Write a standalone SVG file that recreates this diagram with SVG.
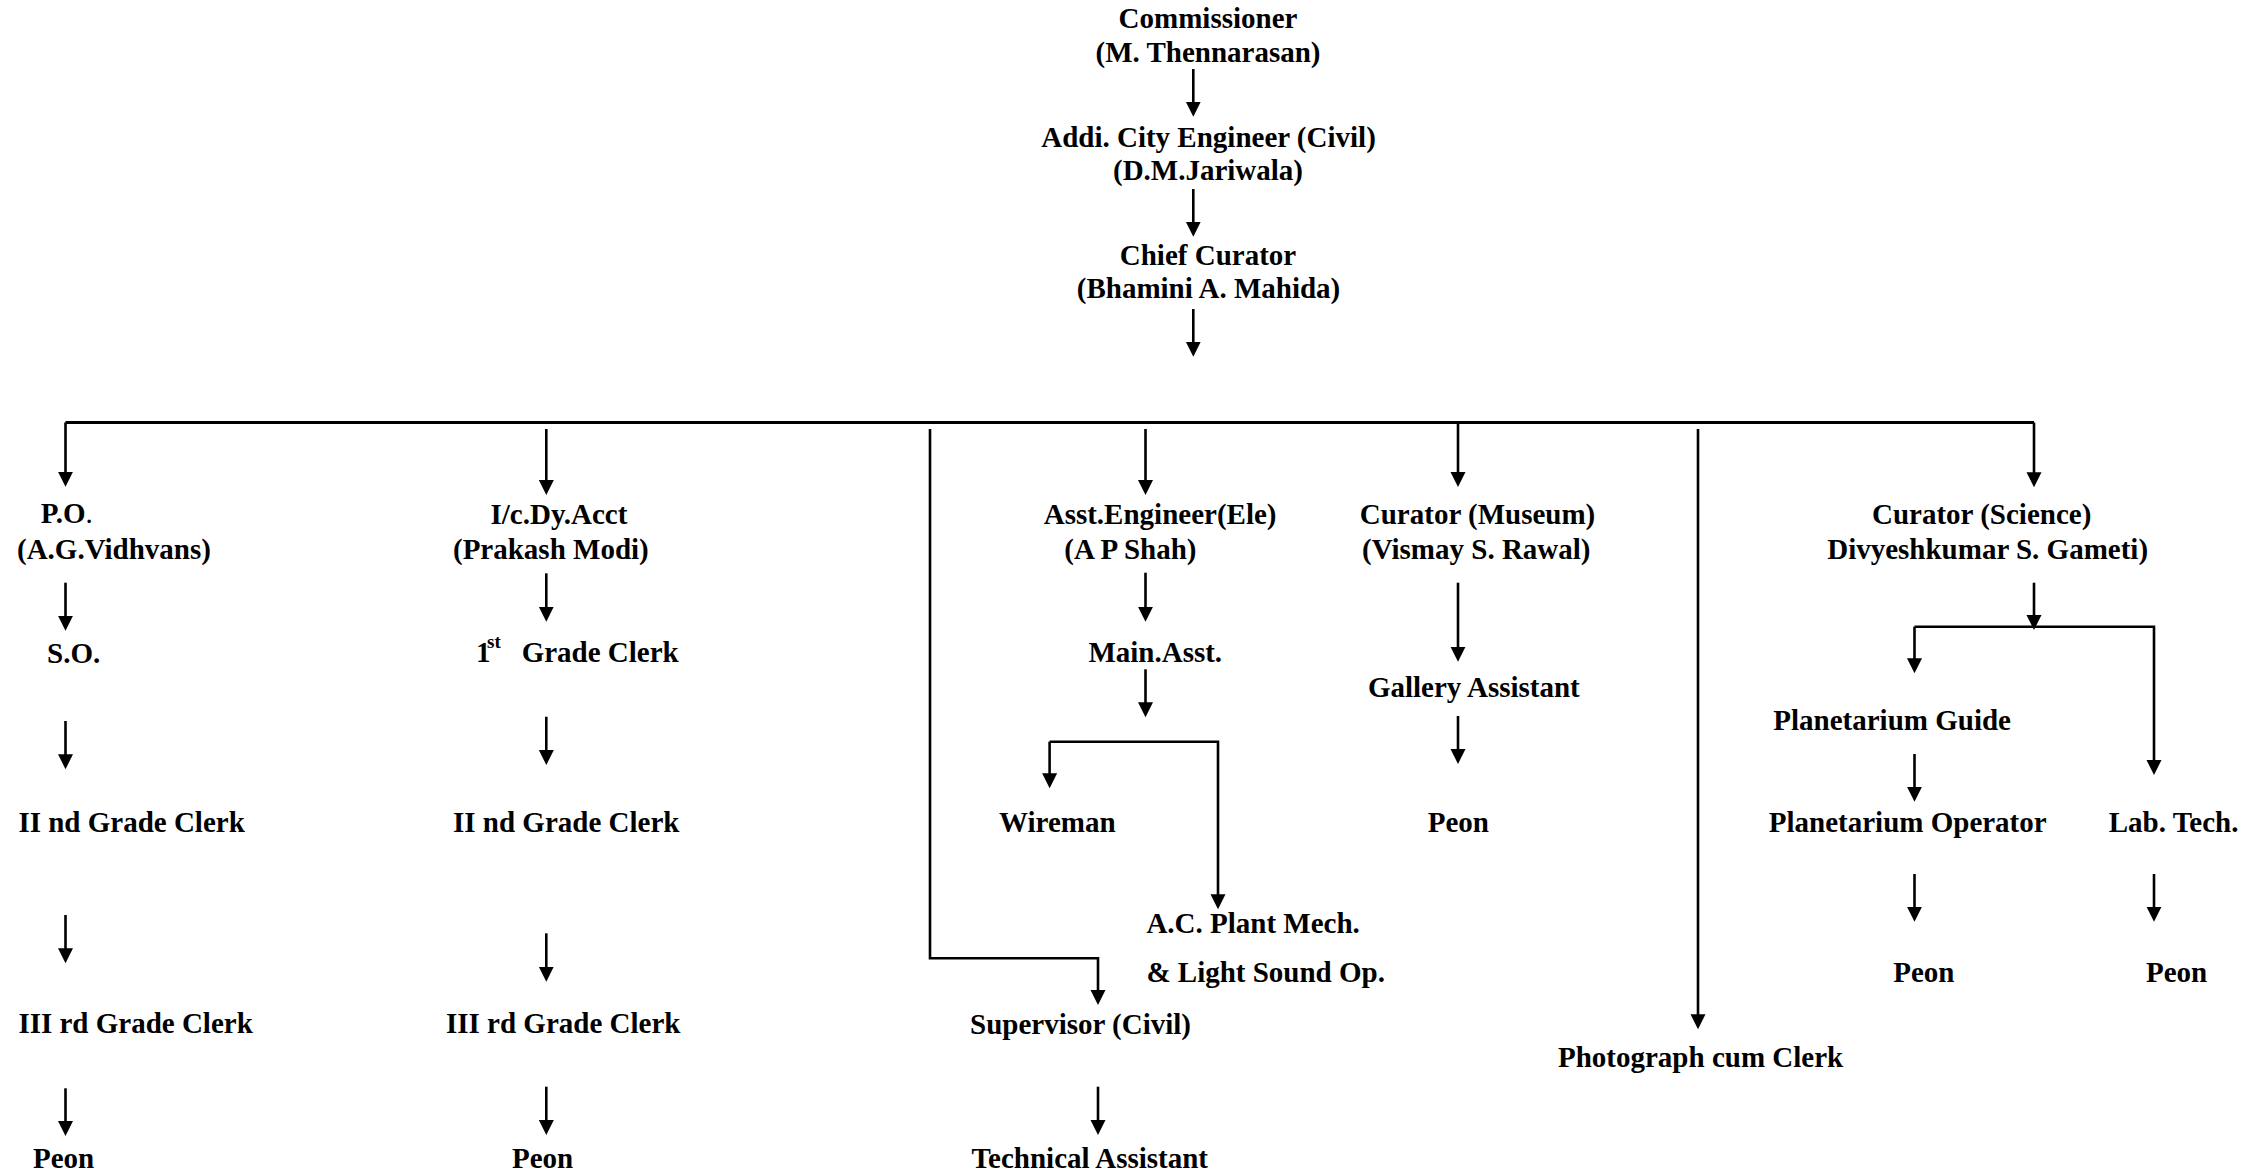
<svg xmlns="http://www.w3.org/2000/svg" width="2264" height="1175" viewBox="0 0 2264 1175">
<style>
.t{font-family:"Liberation Serif","Times New Roman",serif;font-weight:bold;font-size:29px;fill:#000}
.m{text-anchor:middle}
.r{font-weight:normal}
.sup{font-size:19px}
.c{stroke:#000;stroke-width:2.6;fill:none}
.a{marker-end:url(#ah)}
</style>
<defs>
<marker id="ah" markerUnits="userSpaceOnUse" markerWidth="16" markerHeight="16" refX="5" refY="7.5" orient="auto">
<path d="M0,0 L15,7.5 L0,15 z" fill="#000"/>
</marker>
</defs>
<rect width="2264" height="1175" fill="#fff"/>
<g id="connectors">
<line class="c a" x1="1193.3" y1="69" x2="1193.3" y2="106.7"/>
<line class="c a" x1="1193.3" y1="189" x2="1193.3" y2="226.7"/>
<line class="c a" x1="1193.3" y1="309" x2="1193.3" y2="346.7"/>
<path class="c" style="stroke-width:3" d="M65.5,422.5 H2034"/>
<line class="c a" x1="65.5" y1="422.5" x2="65.5" y2="476.7"/>
<line class="c a" x1="2034" y1="422.5" x2="2034" y2="477.3"/>
<line class="c a" x1="1458" y1="422.5" x2="1458" y2="477"/>
<line class="c a" x1="546.3" y1="429" x2="546.3" y2="485"/>
<line class="c a" x1="1145.5" y1="429" x2="1145.5" y2="485"/>
<path class="c a" d="M930,429 V958.3 H1098 V995"/>
<line class="c a" x1="1698" y1="429" x2="1698" y2="1019.3"/>
<line class="c a" x1="65.5" y1="582.7" x2="65.5" y2="620.7"/>
<line class="c a" x1="65.5" y1="721" x2="65.5" y2="759.3"/>
<line class="c a" x1="65.5" y1="915" x2="65.5" y2="953.3"/>
<line class="c a" x1="65.5" y1="1088.3" x2="65.5" y2="1126"/>
<line class="c a" x1="546.3" y1="573.3" x2="546.3" y2="611.7"/>
<line class="c a" x1="546.3" y1="716.7" x2="546.3" y2="755"/>
<line class="c a" x1="546.3" y1="933.3" x2="546.3" y2="971.7"/>
<line class="c a" x1="546.3" y1="1086.7" x2="546.3" y2="1125"/>
<line class="c a" x1="1145.5" y1="572.7" x2="1145.5" y2="611.7"/>
<line class="c a" x1="1145.5" y1="669.3" x2="1145.5" y2="707.3"/>
<path class="c a" d="M1049.6,741.7 H1218 V899.3"/>
<line class="c a" x1="1049.6" y1="741.7" x2="1049.6" y2="778.3"/>
<line class="c a" x1="1098" y1="1086.7" x2="1098" y2="1125"/>
<line class="c a" x1="1458" y1="582.7" x2="1458" y2="651.7"/>
<line class="c a" x1="1458" y1="716" x2="1458" y2="754"/>
<line class="c a" x1="2034" y1="582.7" x2="2034" y2="620"/>
<path class="c a" d="M1914.5,626.7 H2154 V765"/>
<line class="c a" x1="1914.5" y1="626.7" x2="1914.5" y2="663.3"/>
<line class="c a" x1="1914.5" y1="754" x2="1914.5" y2="791.7"/>
<line class="c a" x1="1914.5" y1="874" x2="1914.5" y2="911.7"/>
<line class="c a" x1="2154" y1="874" x2="2154" y2="911.7"/>
</g>
<g id="commissioner"><text class="t m" x="1208" y="28">Commissioner</text><text class="t m" x="1208" y="61.5">(M. Thennarasan)</text></g>
<g id="addl-city-engineer"><text class="t m" x="1208.5" y="146.7">Addi. City Engineer (Civil)</text><text class="t m" x="1208" y="180">(D.M.Jariwala)</text></g>
<g id="chief-curator"><text class="t m" x="1208" y="265">Chief Curator</text><text class="t m" x="1208.5" y="297.7">(Bhamini A. Mahida)</text></g>
<g id="po"><text class="t" x="40.7" y="523.3">P.O<tspan class="r">.</tspan></text><text class="t" x="17" y="558.5">(A.G.Vidhvans)</text></g>
<g id="so"><text class="t" x="47" y="663.3">S.O.</text></g>
<g id="col1-clerk2"><text class="t" x="18.4" y="831.7">II nd Grade Clerk</text></g>
<g id="col1-clerk3"><text class="t" x="18.4" y="1033.3">III rd Grade Clerk</text></g>
<g id="col1-peon"><text class="t" x="33" y="1168.3">Peon</text></g>
<g id="dy-acct"><text class="t" x="490.5" y="524">I/c.Dy.Acct</text><text class="t" x="453" y="559.3">(Prakash Modi)</text></g>
<g id="col2-clerk1"><text class="t" x="476" y="661.7">1</text><text class="t sup" x="487" y="648">st</text><text class="t" x="521.7" y="661.7">Grade Clerk</text></g>
<g id="col2-clerk2"><text class="t" x="453" y="831.7">II nd Grade Clerk</text></g>
<g id="col2-clerk3"><text class="t" x="446" y="1033.3">III rd Grade Clerk</text></g>
<g id="col2-peon"><text class="t" x="512" y="1168.3">Peon</text></g>
<g id="asst-engineer"><text class="t" x="1043.7" y="524">Asst.Engineer(Ele)</text><text class="t" x="1064.3" y="559.3">(A P Shah)</text></g>
<g id="main-asst"><text class="t" x="1088.4" y="661.7">Main.Asst.</text></g>
<g id="wireman"><text class="t" x="999" y="831.7">Wireman</text></g>
<g id="ac-plant"><text class="t" x="1146.4" y="932.7">A.C. Plant Mech.</text><text class="t" x="1146.4" y="981.7">&amp; Light Sound Op.</text></g>
<g id="supervisor"><text class="t" x="970" y="1034">Supervisor (Civil)</text></g>
<g id="tech-asst"><text class="t" x="971.4" y="1168.3">Technical Assistant</text></g>
<g id="curator-museum"><text class="t" x="1359.8" y="524">Curator (Museum)</text><text class="t" x="1362" y="559.3">(Vismay S. Rawal)</text></g>
<g id="gallery-asst"><text class="t" x="1367.9" y="696.7">Gallery Assistant</text></g>
<g id="museum-peon"><text class="t" x="1427.7" y="831.7">Peon</text></g>
<g id="photograph"><text class="t" x="1558" y="1067">Photograph cum Clerk</text></g>
<g id="curator-science"><text class="t" x="1872" y="524">Curator (Science)</text><text class="t" x="1827.2" y="559.3">Divyeshkumar S. Gameti)</text></g>
<g id="planetarium-guide"><text class="t" x="1773.3" y="730">Planetarium Guide</text></g>
<g id="planetarium-operator"><text class="t" x="1768.8" y="831.7">Planetarium Operator</text></g>
<g id="lab-tech"><text class="t" x="2108.7" y="831.7">Lab. Tech.</text></g>
<g id="planetarium-peon"><text class="t" x="1893.2" y="981.7">Peon</text></g>
<g id="lab-peon"><text class="t" x="2146" y="981.7">Peon</text></g>
</svg>
